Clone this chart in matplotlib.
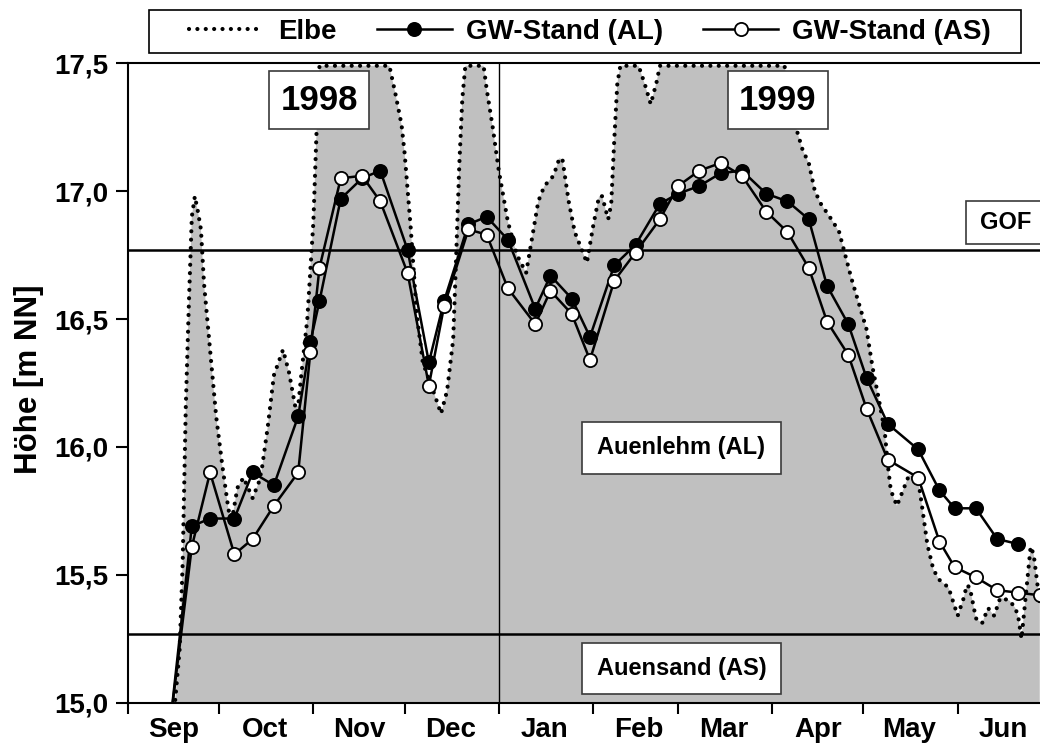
import matplotlib
matplotlib.use("Agg")
import matplotlib.pyplot as plt
import matplotlib.dates as mdates
from matplotlib.patches import Rectangle
from matplotlib.lines import Line2D
from matplotlib.ticker import FuncFormatter, NullFormatter, MultipleLocator
from datetime import datetime
import pandas as pd

plt.rcParams['font.family'] = ['Liberation Sans', 'DejaVu Sans']
plt.rcParams['font.weight'] = 'bold'

# ---------------- data ----------------
series_names = ["Elbe", "GW-Stand (AL)", "GW-Stand (AS)"]
month_labels = ["Jan", "Feb", "Mar", "Apr", "May", "Jun",
                "Jul", "Aug", "Sep", "Oct", "Nov", "Dec"]

gw_dates = ["1998-09-15", "1998-09-22", "1998-09-28", "1998-10-06", "1998-10-12",
            "1998-10-19", "1998-10-27", "1998-10-31", "1998-11-03", "1998-11-10",
            "1998-11-17", "1998-11-23", "1998-12-02", "1998-12-09", "1998-12-14",
            "1998-12-22", "1998-12-28", "1999-01-04", "1999-01-13", "1999-01-18",
            "1999-01-25", "1999-01-31", "1999-02-08", "1999-02-15", "1999-02-23",
            "1999-03-01", "1999-03-08", "1999-03-15", "1999-03-22", "1999-03-30",
            "1999-04-06", "1999-04-13", "1999-04-19", "1999-04-26", "1999-05-02",
            "1999-05-09", "1999-05-19", "1999-05-26", "1999-05-31", "1999-06-07",
            "1999-06-14", "1999-06-21", "1999-06-28"]

gw_al = [14.93, 15.69, 15.72, 15.72, 15.90, 15.85, 16.12, 16.41, 16.57, 16.97,
         17.05, 17.08, 16.77, 16.33, 16.57, 16.87, 16.90, 16.81, 16.54, 16.67,
         16.58, 16.43, 16.71, 16.79, 16.95, 16.99, 17.02, 17.07, 17.08, 16.99,
         16.96, 16.89, 16.63, 16.48, 16.27, 16.09, 15.99, 15.83, 15.76, 15.76,
         15.64, 15.62]

gw_as = [14.93, 15.61, 15.90, 15.58, 15.64, 15.77, 15.90, 16.37, 16.70, 17.05,
         17.06, 16.96, 16.68, 16.24, 16.55, 16.85, 16.83, 16.62, 16.48, 16.61,
         16.52, 16.34, 16.65, 16.76, 16.89, 17.02, 17.08, 17.11, 17.06, 16.92,
         16.84, 16.70, 16.49, 16.36, 16.15, 15.95, 15.88, 15.63, 15.53, 15.49,
         15.44, 15.43, 15.42]

elbe_dates = ["1998-09-15", "1998-09-18", "1998-09-19", "1998-09-20", "1998-09-21",
              "1998-09-22", "1998-09-23", "1998-09-24", "1998-09-25", "1998-09-26",
              "1998-09-28", "1998-09-30", "1998-10-02", "1998-10-04", "1998-10-05",
              "1998-10-07", "1998-10-09", "1998-10-12", "1998-10-14", "1998-10-15",
              "1998-10-17", "1998-10-19", "1998-10-22", "1998-10-24", "1998-10-26",
              "1998-10-27", "1998-10-28", "1998-10-30", "1998-11-01", "1998-11-02",
              "1998-11-03", "1998-11-26", "1998-11-28", "1998-11-30", "1998-12-01",
              "1998-12-03", "1998-12-05", "1998-12-07", "1998-12-11", "1998-12-13",
              "1998-12-15", "1998-12-17", "1998-12-18", "1998-12-19", "1998-12-20",
              "1998-12-21", "1998-12-27", "1998-12-28", "1998-12-30", "1999-01-01",
              "1999-01-04", "1999-01-07", "1999-01-10", "1999-01-12", "1999-01-14",
              "1999-01-16", "1999-01-19", "1999-01-21", "1999-01-22", "1999-01-24",
              "1999-01-26", "1999-01-28", "1999-01-30", "1999-02-01", "1999-02-03",
              "1999-02-04", "1999-02-06", "1999-02-07", "1999-02-08", "1999-02-09",
              "1999-02-10", "1999-02-16", "1999-02-18", "1999-02-20", "1999-02-22",
              "1999-02-23", "1999-04-05", "1999-04-07", "1999-04-09", "1999-04-11",
              "1999-04-13", "1999-04-15", "1999-04-17", "1999-04-21", "1999-04-23",
              "1999-04-25", "1999-04-27", "1999-04-30", "1999-05-02", "1999-05-04",
              "1999-05-06", "1999-05-08", "1999-05-09", "1999-05-10", "1999-05-12",
              "1999-05-14", "1999-05-16", "1999-05-19", "1999-05-20", "1999-05-22",
              "1999-05-24", "1999-05-26", "1999-05-29", "1999-06-01", "1999-06-03",
              "1999-06-04", "1999-06-05", "1999-06-07", "1999-06-09", "1999-06-11",
              "1999-06-13", "1999-06-15", "1999-06-18", "1999-06-20", "1999-06-21",
              "1999-06-22", "1999-06-25", "1999-06-26", "1999-06-28"]

elbe_level = [14.80, 15.21, 15.55, 16.15, 16.55,
              16.90, 16.98, 16.92, 16.85, 16.64,
              16.38, 16.12, 15.93, 15.76, 15.70,
              15.84, 15.88, 15.80, 15.86, 15.91,
              16.08, 16.28, 16.38, 16.29, 16.16,
              16.16, 16.28, 16.50, 16.88, 17.22,
              17.49, 17.49, 17.38, 17.26, 17.15,
              16.86, 16.52, 16.33, 16.20, 16.13,
              16.22, 16.42, 16.75, 17.10, 17.36,
              17.49, 17.49, 17.40, 17.25, 17.08,
              16.88, 16.75, 16.68, 16.82, 16.96,
              17.02, 17.06, 17.13, 17.12, 16.96,
              16.84, 16.78, 16.72, 16.86, 16.98,
              16.98, 16.89, 16.95, 17.20, 17.42,
              17.49, 17.49, 17.42, 17.34, 17.43,
              17.49, 17.49, 17.38, 17.24, 17.16,
              17.11, 17.00, 16.95, 16.88, 16.84,
              16.75, 16.66, 16.54, 16.46, 16.31,
              16.19, 16.06, 15.93, 15.83, 15.77,
              15.83, 15.89, 15.87, 15.79, 15.62,
              15.52, 15.48, 15.45, 15.34, 15.41,
              15.46, 15.45, 15.33, 15.31, 15.37,
              15.34, 15.41, 15.40, 15.37, 15.33,
              15.25, 15.61, 15.58, 15.39]

gof_level = 16.77        # Geländeoberfläche
layer_boundary = 15.27   # Grenze Auenlehm / Auensand
year_change = "1999-01-01"

# ---------------- figure ----------------
fig = plt.figure(figsize=(10.4, 7.49), dpi=100)
ax = fig.add_axes([0.12308, 0.0618, 0.87692, 0.8538])

ex = pd.to_datetime(elbe_dates)
gx = pd.to_datetime(gw_dates)

dotted = (0, (0.01, 2.0))
ax.fill_between(ex, elbe_level, 14.0, color='#c0c0c0', lw=0, zorder=1)
ax.axhline(gof_level, color='black', lw=1.8, zorder=2)
ax.axhline(layer_boundary, color='black', lw=1.8, zorder=2)
ax.axvline(pd.Timestamp(year_change), color='black', lw=1.0, zorder=2)
ax.plot(ex, elbe_level, color='black', lw=3.0, linestyle=dotted,
        dash_capstyle='round', zorder=3)
ax.plot(gx[:len(gw_al)], gw_al, '-o', color='black', lw=1.8, ms=9.5,
        mfc='black', mec='black', mew=1.3, zorder=4)
ax.plot(gx[:len(gw_as)], gw_as, '-o', color='black', lw=1.8, ms=9.5,
        mfc='white', mec='black', mew=1.3, zorder=5)

ax.set_xlim(datetime(1998, 9, 1), datetime(1999, 6, 28, 2))
ax.set_ylim(15.0, 17.5)

ax.xaxis.set_major_locator(mdates.MonthLocator())
ax.xaxis.set_major_formatter(NullFormatter())
ax.xaxis.set_minor_locator(mdates.MonthLocator(bymonthday=16))
ax.xaxis.set_minor_formatter(FuncFormatter(
    lambda v, p: month_labels[mdates.num2date(v).month - 1]))
ax.yaxis.set_major_locator(MultipleLocator(0.5))
ax.yaxis.set_major_formatter(FuncFormatter(lambda v, p: f"{v:.1f}".replace('.', ',')))

ax.tick_params(axis='x', which='major', length=8, width=1.5, direction='out')
ax.tick_params(axis='x', which='minor', length=0, pad=10, labelsize=20)
ax.tick_params(axis='y', which='major', length=9, width=1.5, pad=5, labelsize=20)

for s in ['left', 'bottom', 'top']:
    ax.spines[s].set_linewidth(1.5)
ax.spines['right'].set_visible(False)

fig.text(29 / 1040, 1 - 379 / 749, "Höhe [m NN]", rotation=90,
         ha='center', va='center', fontsize=22.5, fontweight='bold')

# annotation boxes (axes fraction)
def label_box(x0, x1, y0, y1, text, size, tx=None, ty=None):
    ax.add_patch(Rectangle((x0, y0), x1 - x0, y1 - y0, transform=ax.transAxes,
                           fc='white', ec='#3a3a3a', lw=1.2, zorder=6, clip_on=False))
    ax.text((x0 + x1) / 2 if tx is None else tx, (y0 + y1) / 2 if ty is None else ty,
            text, transform=ax.transAxes, ha='center', va='center',
            fontsize=size, fontweight='bold', zorder=7)

label_box(0.1546, 0.2643, 0.8971, 0.9878, "1998", 25)
label_box(0.6579, 0.7675, 0.8971, 0.9878, "1999", 25)
label_box(0.9189, 1.02, 0.7173, 0.7850, "GOF", 17, tx=0.9624)
label_box(0.4978, 0.7160, 0.3581, 0.4394, "Auenlehm (AL)", 17)
label_box(0.4978, 0.7160, 0.0131, 0.0938, "Auensand (AS)", 17)

# legend
handles = [
    Line2D([], [], color='black', lw=3.0, linestyle=dotted, dash_capstyle='round'),
    Line2D([], [], color='black', lw=1.8, marker='o', ms=9.5, mfc='black', mec='black',
           mew=1.3),
    Line2D([], [], color='black', lw=1.8, marker='o', ms=9.5, mfc='white', mec='black',
           mew=1.3),
]
fig.legend(handles, series_names, loc='center', bbox_to_anchor=(590 / 1040, 1 - 32 / 749),
           ncol=3, frameon=False, fontsize=20, handlelength=2.7, handletextpad=0.5,
           columnspacing=1.45, borderpad=0, numpoints=1)
fig.add_artist(Rectangle((149 / 1040, 1 - 53 / 749), 872 / 1040, 43 / 749,
                         transform=fig.transFigure, fill=False, ec='black', lw=1.2))

fig.savefig("out.png", dpi=100)
